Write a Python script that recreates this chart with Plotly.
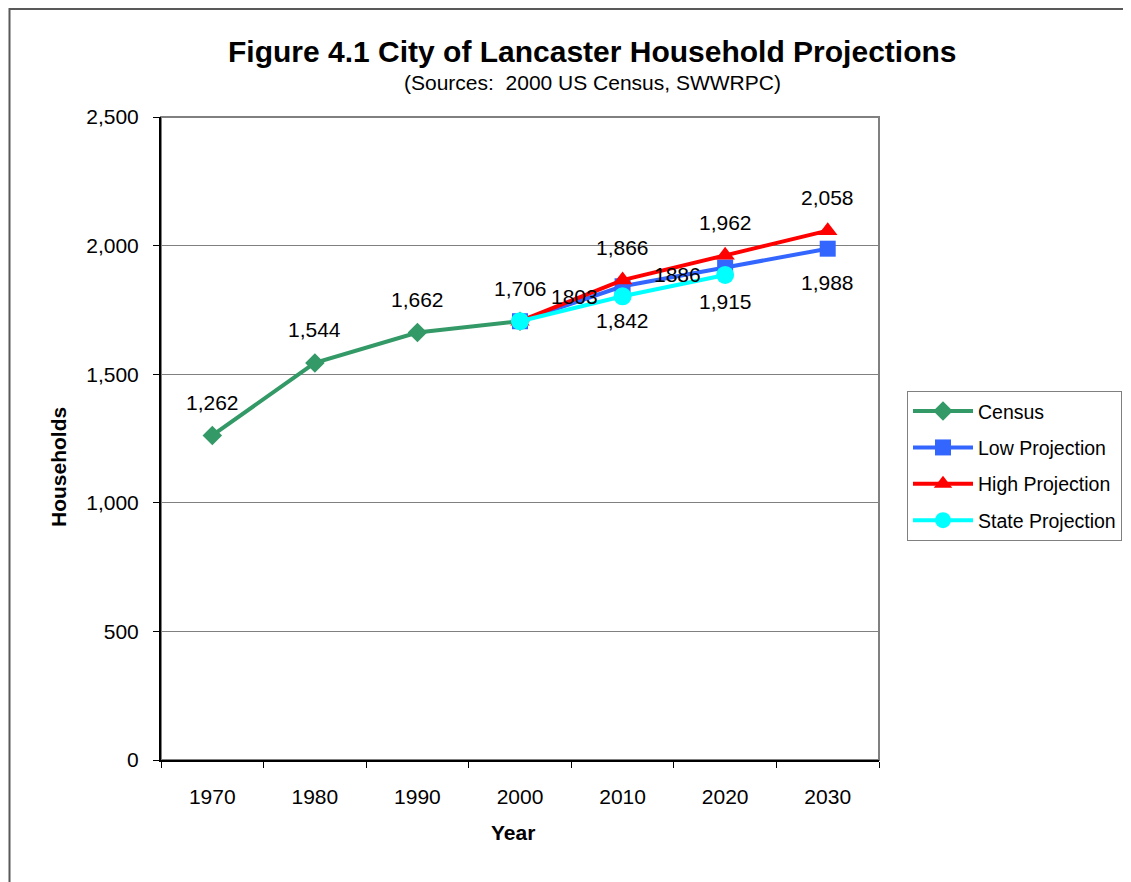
import plotly.graph_objects as go

years = ["1970", "1980", "1990", "2000", "2010", "2020", "2030"]
census_years = ["1970", "1980", "1990", "2000"]
census = [1262, 1544, 1662, 1706]
proj_years = ["2000", "2010", "2020", "2030"]
low = [1706, 1842, 1915, 1988]
high = [1706, 1866, 1962, 2058]
state_years = ["2000", "2010", "2020"]
state = [1706, 1803, 1886]

census_labels = ["1,262", "1,544", "1,662", "1,706"]
low_labels = ["", "1,842", "1,915", "1,988"]
high_labels = ["", "1,866", "1,962", "2,058"]
state_labels = ["", "1803", "1886"]

FONT = "Liberation Sans, Arial, sans-serif"

fig = go.Figure()
fig.add_trace(go.Scatter(x=census_years, y=census, name="Census", mode="lines+markers",
                         line=dict(color="#339966", width=4),
                         marker=dict(symbol="diamond", size=15, color="#339966"),
                         legendgroup="a"))
fig.add_trace(go.Scatter(x=proj_years, y=low, name="Low Projection", mode="lines+markers",
                         line=dict(color="#3366FF", width=4),
                         marker=dict(symbol="square", size=16, color="#3366FF"),
                         legendgroup="b"))
fig.add_trace(go.Scatter(x=proj_years, y=high, name="High Projection", mode="lines+markers",
                         line=dict(color="#FF0000", width=4),
                         marker=dict(symbol="triangle-up", size=17, color="#FF0000"),
                         legendgroup="c"))
fig.add_trace(go.Scatter(x=state_years, y=state, name="State Projection", mode="lines+markers",
                         line=dict(color="#00FFFF", width=4),
                         marker=dict(symbol="circle", size=18, color="#00FFFF"),
                         legendgroup="d"))

ann = []
def add_labels(xs, ys, labels, xshift, yshift):
    for x, y, t in zip(xs, ys, labels):
        if t:
            ann.append(dict(x=years.index(x), y=y, xref="x", yref="y", text=t, showarrow=False,
                            xanchor="center", yanchor="middle",
                            xshift=xshift, yshift=yshift,
                            font=dict(family=FONT, size=21, color="black")))

add_labels(census_years, census, census_labels, 0, 33)
add_labels(proj_years, low, low_labels, 0, -34)
add_labels(proj_years, high, high_labels, 0, 33)
add_labels(state_years, state, state_labels, -48, 0)

ann.append(dict(x=0.6003, y=(760 - 52) / 643, xref="paper", yref="paper",
                xanchor="center", yanchor="middle",
                text="<b>Figure 4.1 City of Lancaster Household Projections</b>",
                showarrow=False, font=dict(family=FONT, size=30, color="black")))
ann.append(dict(x=0.6003, y=(760 - 82) / 643, xref="paper", yref="paper",
                xanchor="center", yanchor="middle",
                text="(Sources:&nbsp; 2000 US Census, SWWRPC)",
                showarrow=False, font=dict(family=FONT, size=21, color="black")))
ann.append(dict(x=(58 - 161) / 718, y=(760 - 467) / 643, xref="paper", yref="paper",
                xanchor="center", yanchor="middle", textangle=-90,
                text="<b>Households</b>",
                showarrow=False, font=dict(family=FONT, size=21, color="black")))
ann.append(dict(x=(513 - 161) / 718, y=(760 - 832) / 643, xref="paper", yref="paper",
                xanchor="center", yanchor="middle",
                text="<b>Year</b>",
                showarrow=False, font=dict(family=FONT, size=21, color="black")))

fig.update_layout(
    width=1131, height=882,
    margin=dict(l=153, r=260, t=109, b=130),
    paper_bgcolor="white", plot_bgcolor="white",
    font=dict(family=FONT, size=21, color="black"),
    showlegend=True,
    legend=dict(x=1.039, y=0.574, xanchor="left", yanchor="top",
                bordercolor="#808080", borderwidth=1, bgcolor="white",
                font=dict(family=FONT, size=19.5, color="black"),
                itemwidth=60, tracegroupgap=8),
    annotations=ann,
    shapes=[
        dict(type="rect", xref="paper", yref="paper", x0=0, x1=1, y0=0, y1=1,
             line=dict(color="#808080", width=2), layer="below"),
        dict(type="rect", xref="paper", yref="paper", x0=-0.211, x1=1.6, y0=-0.4, y1=1.168,
             line=dict(color="#595959", width=2), layer="below"),
    ],
)
fig.update_xaxes(type="category", categoryorder="array", categoryarray=years,
                 range=[-0.5, 6.5], tickson="boundaries", ticks="outside", ticklen=6,
                 tickcolor="black", showline=True, linecolor="black", linewidth=2,
                 ticklabelstandoff=17, showgrid=False,
                 tickfont=dict(family=FONT, size=21))
fig.update_yaxes(range=[0, 2500], dtick=500, tickformat=",", ticks="outside", ticklen=6,
                 tickcolor="black", showline=True, linecolor="black", linewidth=2,
                 ticklabelstandoff=10,
                 showgrid=True, gridcolor="#808080", gridwidth=1, zeroline=False,
                 tickfont=dict(family=FONT, size=21))

fig.write_html("out.html")
